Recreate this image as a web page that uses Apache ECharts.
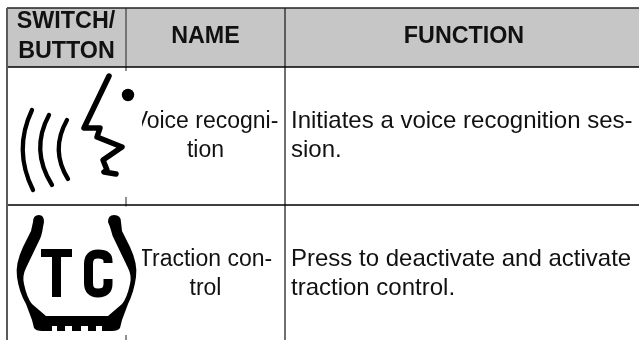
<!DOCTYPE html>
<html><head><meta charset="utf-8">
<style>html,body{margin:0;padding:0;background:#fff}#c{width:639px;height:340px}</style>
<script src="https://cdn.jsdelivr.net/npm/echarts@6/dist/echarts.min.js"></script>
</head><body><div id="c"></div>
<script>
const headers = ['NAME', 'FUNCTION'];
const switchHeader = ['SWITCH/', 'BUTTON'];
const names = [['Voice recogni-', 'tion'], ['Traction con-', 'trol']];
const functions = [
  ['Initiates a voice recognition ses-', 'sion.'],
  ['Press to deactivate and activate', 'traction control.']
];
const FONT = '"Liberation Sans", Arial, sans-serif';
const INK = '#111';
const colX = [7, 126, 285, 639];
const rowY = [8, 67, 205, 340];
const bodyBase = [[128, 157], [266, 295]];

function line(x1, y1, x2, y2, color, w) {
  return {type: 'line', shape: {x1, y1, x2, y2}, style: {stroke: color, lineWidth: w}};
}
function text(str, x, base, size, weight, align) {
  return {type: 'text', x, y: base - size * 0.36 + 2.2, style: {text: str, fill: INK, font: weight + ' ' + size + 'px ' + FONT, align: align, verticalAlign: 'middle'}};
}
let pathId = 0;
function pathType(d) {
  const name = 'iconPath' + (pathId++);
  echarts.graphic.registerShape(name, echarts.graphic.extendPath(d, {}));
  return name;
}
function stroke(d, w, cap) {
  return {type: pathType(d), style: {fill: 'none', stroke: '#000', lineWidth: w, lineCap: cap || 'round', lineJoin: 'round'}};
}
function fill(d) {
  return {type: pathType(d), style: {fill: '#000', stroke: 'none'}};
}
const g = [];
g.push({type: 'rect', shape: {x: colX[0], y: rowY[0], width: 632, height: rowY[1] - rowY[0]}, style: {fill: '#c6c6c6'}});
g.push(line(colX[1], rowY[0], colX[1], rowY[3], '#222', 1));
g.push(line(colX[2], rowY[0], colX[2], rowY[3], '#222', 1.3));
g.push(line(colX[0], rowY[0], 639, rowY[0], '#222', 1.5));
g.push(line(colX[0], rowY[1], 639, rowY[1], '#000', 1.6));
g.push(line(colX[0], rowY[2], 639, rowY[2], '#000', 1.6));
g.push(line(colX[0], rowY[0], colX[0], rowY[3], '#5a5a5a', 2));

g.push(text(switchHeader[0], 66, 28, 23.3, 'bold', 'center'));
g.push(text(switchHeader[1], 66.5, 58, 23.3, 'bold', 'center'));
g.push(text(headers[0], 205.5, 43, 23.3, 'bold', 'center'));
g.push(text(headers[1], 464, 43, 23.3, 'bold', 'center'));

names.forEach((n, r) => n.forEach((s, i) => g.push(text(s, 205.5, bodyBase[r][i], 23, 'normal', 'center'))));
functions.forEach((n, r) => n.forEach((s, i) => g.push(text(s, 291, bodyBase[r][i], 24, 'normal', 'left'))));

// icon backgrounds (they clip the first letter of the names)
g.push({type: 'rect', shape: {x: 8, y: 71, width: 134, height: 126}, style: {fill: '#fff'}});
g.push({type: 'rect', shape: {x: 8, y: 206.5, width: 134, height: 128.5}, style: {fill: '#fff'}});

// voice icon
g.push(stroke('M109 76 L84 128 L100 128 L97 137 L122 147 L103 160 L107 170 L104 172 L116 174', 5.5, 'round'));
g.push({type: 'circle', shape: {cx: 128, cy: 95, r: 6.2}, style: {fill: '#000'}});
g.push(stroke('M32 110 Q13 150 33 190', 4.3));
g.push(stroke('M49 115 Q30 150 52 185', 4.3));
g.push(stroke('M67 120 Q50 150 68 179', 4.3));

// traction icon
g.push(fill('M33 222 Q33 215 39 215 Q44 215 44 222 L43 227 Q42 236 38 243 L26 268 Q22 276 24 284 Q27 298 32 304 L46 316 L108 316 L122 304 Q127 298 130 284 Q132 276 128 268 L116 243 Q112 236 110 227 L108 222 Q108 215 114 215 Q121 215 121 222 L122 231 L130 247 Q138 264 136 277 Q134 292 128 304 L122 320 L120 328 Q118 331 112 331 L102 331 L102 326 L96 326 L96 331 L88 331 L88 326 L81 326 L81 331 L72 331 L72 326 L65 326 L65 331 L57 331 L57 326 L52 326 L52 331 L42 331 Q36 331 34 328 L32 320 L26 304 Q19 292 17 277 Q15 264 23 247 L31 231 Z'));
g.push(fill('M41 249 L72 249 L72 257 L61 257 L61 297 L52 297 L52 257 L41 257 Z'));
g.push(stroke('M108 263 L108 261 Q108 254 98 254 Q88.5 254 88.5 264 L88.5 283 Q88.5 293 98 293 Q108 293 108 284 L108 279', 9, 'butt'));

const chart = echarts.init(document.getElementById('c'), null, {renderer: 'canvas'});
chart.setOption({animation: false, backgroundColor: '#fff', graphic: {elements: g}});
</script></body></html>
